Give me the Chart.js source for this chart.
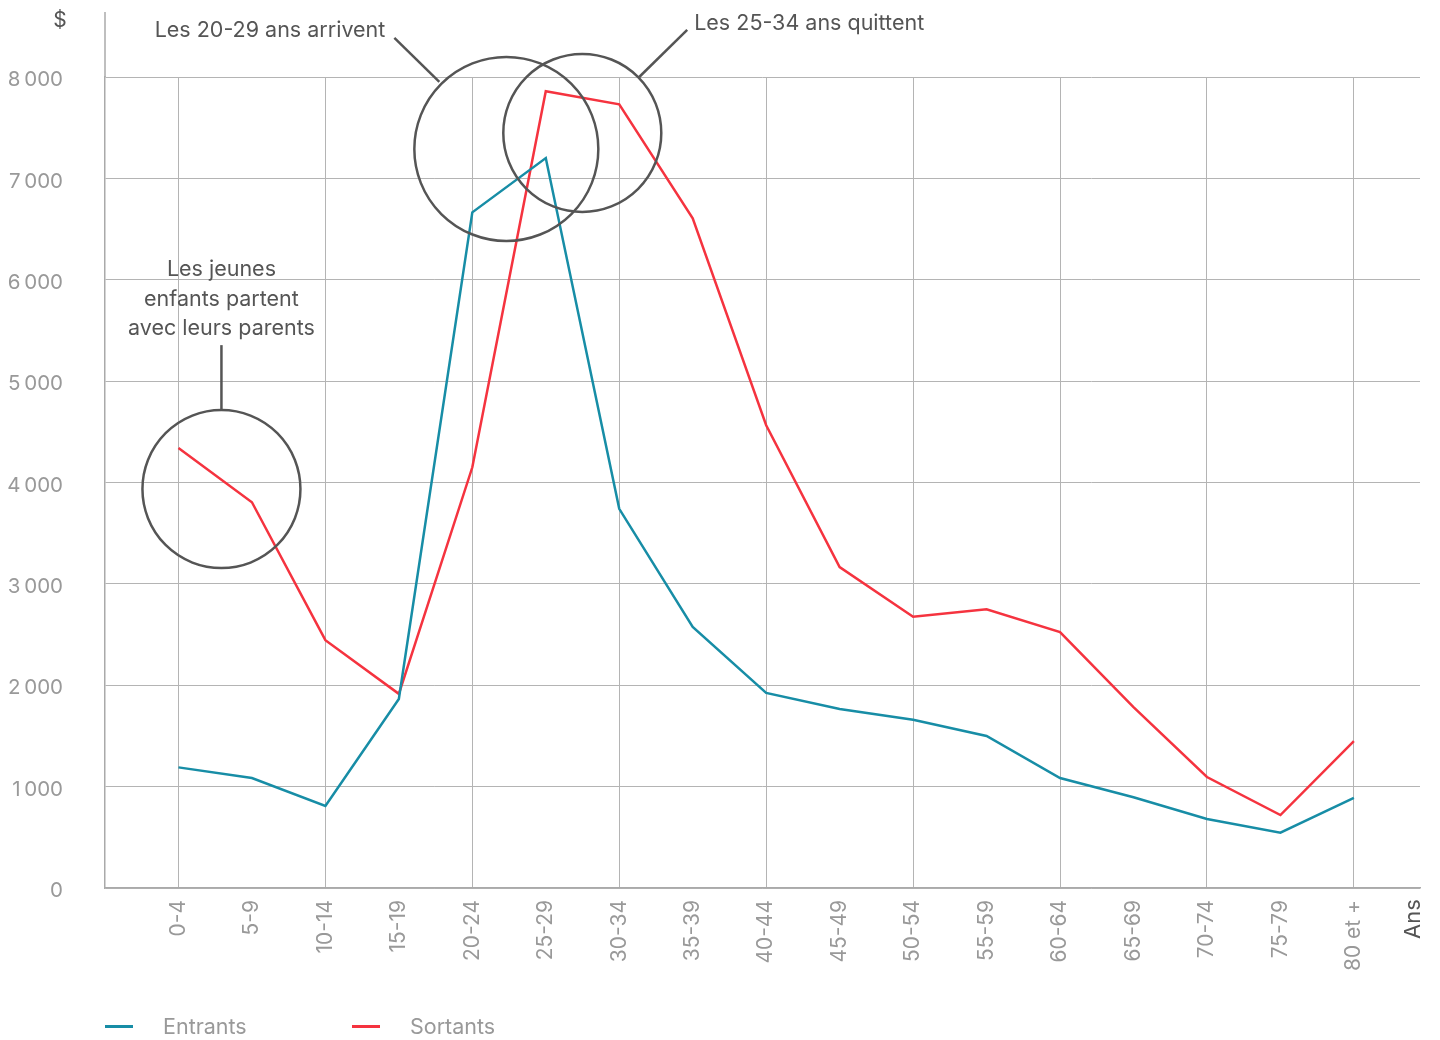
<!DOCTYPE html>
<html>
<head>
<meta charset="utf-8">
<script src="https://cdn.jsdelivr.net/npm/chart.js@4.4.0/dist/chart.umd.min.js"></script>
<style>
  body { margin: 0; background: #fff; font-family: Inter, sans-serif; }
  #wrap { position: relative; width: 1440px; height: 1040px; }
  #legend { position: absolute; left: 105px; top: 1013px; display: flex; font-size: 21.5px; color: #999; }
  .item { display: flex; align-items: center; }
  .mark { width: 28px; height: 3px; margin-right: 30px; }
</style>
</head>
<body>
<div id="wrap">
  <canvas id="chart" width="1440" height="1040"></canvas>
  <div id="legend"></div>
</div>
<script>
const ageGroups = ['0-4', '5-9', '10-14', '15-19', '20-24', '25-29', '30-34', '35-39', '40-44',
  '45-49', '50-54', '55-59', '60-64', '65-69', '70-74', '75-79', '80 et +'];
const entrants = [1190, 1085, 810, 1865, 6665, 7200, 3740, 2575, 1925, 1765, 1660, 1500, 1085, 895, 680, 545, 890];
const sortants = [4340, 3805, 2445, 1915, 4150, 7860, 7730, 6605, 4565, 3165, 2675, 2750, 2525, 1785, 1095, 720, 1450];
const yTicks = [0, 1000, 2000, 3000, 4000, 5000, 6000, 7000, 8000];

const teal = '#178da6';
const red = '#f5333f';
const ink = '#555555';

// callouts, anchored in data units (x = age group index, y = $)
const circles = [
  { x: 0.585, y: 3935, r: 79 },
  { x: 4.463, y: 7290, r: 92 },
  { x: 5.497, y: 7448, r: 79 }
];
const leaders = [
  [[0.585, 4715], [0.585, 5355]],
  [[3.551, 7951], [2.939, 8385]],
  [[6.272, 8000], [6.925, 8464]]
];
const notes = [
  { x: 0.585, y: 6114, text: 'Les jeunes', align: 'center' },
  { x: 0.585, y: 5819, text: 'enfants partent', align: 'center' },
  { x: 0.585, y: 5533, text: 'avec leurs parents', align: 'center' },
  { x: 2.816, y: 8473, text: 'Les 20-29 ans arrivent', align: 'right' },
  { x: 7.02, y: 8533, text: 'Les 25-34 ans quittent', align: 'left' }
];

const fmt = v => v >= 1000 ? String(v).slice(0, -3) + '\u2009' + String(v).slice(-3) : String(v);

const extras = {
  id: 'extras',
  afterDraw(chart) {
    const ctx = chart.ctx;
    const xs = chart.scales.x, ys = chart.scales.y;
    const area = chart.chartArea;
    ctx.save();
    // y axis line continues above the plot
    ctx.strokeStyle = '#aaaaaa';
    ctx.lineWidth = 1.5;
    ctx.beginPath();
    ctx.moveTo(area.left, area.top);
    ctx.lineTo(area.left, 12);
    ctx.stroke();

    ctx.fillStyle = ink;
    ctx.font = '21px Inter';
    ctx.textAlign = 'center';
    ctx.textBaseline = 'middle';
    ctx.fillText('$', 60, 21);

    ctx.save();
    ctx.translate(1413, 919);
    ctx.rotate(-Math.PI / 2);
    ctx.font = '22px Inter';
    ctx.fillText('Ans', 0, 0);
    ctx.restore();

    ctx.strokeStyle = ink;
    ctx.lineWidth = 2.5;
    circles.forEach(c => {
      ctx.beginPath();
      ctx.arc(xs.getPixelForValue(c.x), ys.getPixelForValue(c.y), c.r, 0, Math.PI * 2);
      ctx.stroke();
    });
    leaders.forEach(l => {
      ctx.beginPath();
      ctx.moveTo(xs.getPixelForValue(l[0][0]), ys.getPixelForValue(l[0][1]));
      ctx.lineTo(xs.getPixelForValue(l[1][0]), ys.getPixelForValue(l[1][1]));
      ctx.stroke();
    });
    ctx.font = '21.5px Inter';
    notes.forEach(n => {
      ctx.textAlign = n.align;
      ctx.fillText(n.text, xs.getPixelForValue(n.x), ys.getPixelForValue(n.y) + 1);
    });
    ctx.restore();
  }
};

const datasets = [
  { label: 'Entrants', data: entrants.map((v, i) => ({ x: i, y: v })), borderColor: teal, backgroundColor: teal },
  { label: 'Sortants', data: sortants.map((v, i) => ({ x: i, y: v })), borderColor: red, backgroundColor: red }
];

new Chart(document.getElementById('chart').getContext('2d'), {
  type: 'line',
  data: { datasets: datasets },
  options: {
    responsive: false,
    animation: false,
    layout: { padding: { top: 77, right: 20, left: 0, bottom: 0 } },
    elements: { line: { borderWidth: 2.5, tension: 0 }, point: { radius: 0 } },
    plugins: { legend: { display: false }, tooltip: { enabled: false } },
    scales: {
      x: {
        type: 'linear',
        min: -1,
        max: 16.9,
        afterFit: s => { s.height = 152; },
        afterBuildTicks: s => { s.ticks = ageGroups.map((g, i) => ({ value: i })); },
        border: { color: '#aaaaaa', width: 1.5 },
        grid: {
          drawTicks: false,
          color: c => (c.tick && c.tick.value % 2 === 0) ? '#b4b4b4' : 'rgba(0,0,0,0)',
          lineWidth: 1
        },
        ticks: {
          autoSkip: false,
          minRotation: 90,
          maxRotation: 90,
          padding: 12,
          color: '#999999',
          font: { family: 'Inter', size: 21 },
          callback: v => ageGroups[v] || ''
        }
      },
      y: {
        min: 0,
        max: 8000,
        afterFit: s => { s.width = 105; },
        afterBuildTicks: s => { s.ticks = yTicks.map(v => ({ value: v })); },
        border: { color: '#aaaaaa', width: 1.5 },
        grid: { drawTicks: false, color: '#b4b4b4', lineWidth: 1 },
        ticks: {
          padding: 42,
          labelOffset: 3,
          color: '#999999',
          font: { family: 'Inter', size: 20.5 },
          callback: v => fmt(v)
        }
      }
    }
  },
  plugins: [extras]
});

const legend = document.getElementById('legend');
datasets.forEach((d, i) => {
  const item = document.createElement('div');
  item.className = 'item';
  item.style.width = i === 0 ? '247px' : 'auto';
  const mark = document.createElement('span');
  mark.className = 'mark';
  mark.style.background = d.borderColor;
  const txt = document.createElement('span');
  txt.textContent = d.label;
  item.appendChild(mark);
  item.appendChild(txt);
  legend.appendChild(item);
});
</script>
</body>
</html>
